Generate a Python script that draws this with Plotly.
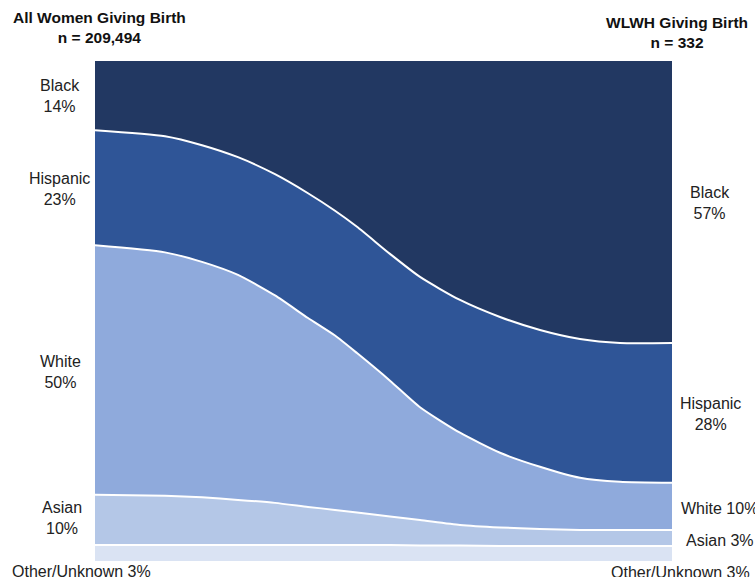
import plotly.graph_objects as go

# Position along the flow (0 = all women, 577 = WLWH), read at sample columns
flow_pos = [0, 70, 107, 143, 180, 213, 240, 262, 295, 325, 365, 405, 445, 485, 525, 577]

# Share (%) of each group at each flow position
black    = [14.0, 15.2, 17.0, 19.4, 22.8, 26.6, 30.1, 33.3, 38.7, 43.3, 47.9, 51.3, 53.9, 55.7, 56.5, 56.5]
hispanic = [23.0, 23.2, 23.3, 23.5, 24.2, 24.9, 24.9, 25.2, 25.3, 26.0, 26.5, 27.1, 27.3, 27.7, 27.7, 27.9]
white    = [49.8, 48.6, 47.0, 44.9, 41.4, 37.7, 34.8, 31.8, 27.1, 22.5, 18.4, 14.9, 12.4, 10.4, 9.6, 9.4]
asian    = [10.0, 9.8, 9.5, 9.0, 8.4, 7.6, 7.0, 6.5, 5.7, 5.1, 4.1, 3.7, 3.4, 3.2, 3.2, 3.2]
other    = [3.2, 3.2, 3.2, 3.2, 3.2, 3.2, 3.2, 3.2, 3.2, 3.1, 3.1, 3.0, 3.0, 3.0, 3.0, 3.0]

groups = ["Other/Unknown", "Asian", "White", "Hispanic", "Black"]
series = [other, asian, white, hispanic, black]
colors = ["#dae3f3", "#b4c7e7", "#8faadc", "#2f5597", "#223862"]

left_pct = ["14%", "23%", "50%", "10%", "3%"]
right_pct = ["57%", "28%", "10%", "3%", "3%"]

W, H = 755, 577
L, R, T, B = 95, 83, 60, 16
pw, ph = W - L - R, H - T - B

def px(x):
    return (x - L) / pw

def py(y):
    return (H - B - y) / ph

fig = go.Figure()
for name, vals, col in zip(groups, series, colors):
    fig.add_trace(go.Scatter(
        x=flow_pos, y=vals, name=name, mode="lines",
        stackgroup="one", groupnorm="percent",
        line=dict(color="white", width=2, shape="spline", smoothing=0.6),
        fillcolor=col, hoverinfo="skip",
    ))

font_lbl = dict(family="Liberation Sans, Arial, sans-serif", size=16, color="#222222")
font_ttl = dict(family="Liberation Sans, Arial, sans-serif", size=15.5, color="#111111")

ann = []
def add(text, x, y, xanchor="center", font=font_lbl):
    ann.append(dict(text=text, x=px(x), y=py(y), xref="paper", yref="paper",
                    xanchor=xanchor, yanchor="middle", showarrow=False,
                    align="center", font=font))

add("<b>All Women Giving Birth<br>n = 209,494</b>", 99, 27, font=font_ttl)
add("<b>WLWH Giving Birth<br>n = 332</b>", 677, 32, font=font_ttl)

add("Black<br>" + left_pct[0], 60, 96)
add("Hispanic<br>" + left_pct[1], 59, 189)
add("White<br>" + left_pct[2], 60, 372)
add("Asian<br>" + left_pct[3], 62, 518)
add("Other/Unknown " + left_pct[4], 81, 571)

add("Black<br>" + right_pct[0], 710, 203)
add("Hispanic<br>" + right_pct[1], 710, 414)
add("White " + right_pct[2], 679, 508, xanchor="left")
add("Asian " + right_pct[3], 720, 540)
add("Other/Unknown " + right_pct[4], 680, 572)

fig.update_layout(
    width=W, height=H,
    margin=dict(l=L, r=R, t=T, b=B),
    paper_bgcolor="white", plot_bgcolor="white",
    showlegend=False, hovermode=False,
    xaxis=dict(visible=False, range=[0, 577], fixedrange=True),
    yaxis=dict(visible=False, range=[0, 100], fixedrange=True),
    annotations=ann,
)

fig.write_html("out.html", config={"displayModeBar": False})

with open("out.html", "r", encoding="utf-8") as f:
    html = f.read()
html = html.replace("<head>", "<head><style>html,body{margin:0;padding:0;overflow:hidden;}</style>", 1)
with open("out.html", "w", encoding="utf-8") as f:
    f.write(html)
